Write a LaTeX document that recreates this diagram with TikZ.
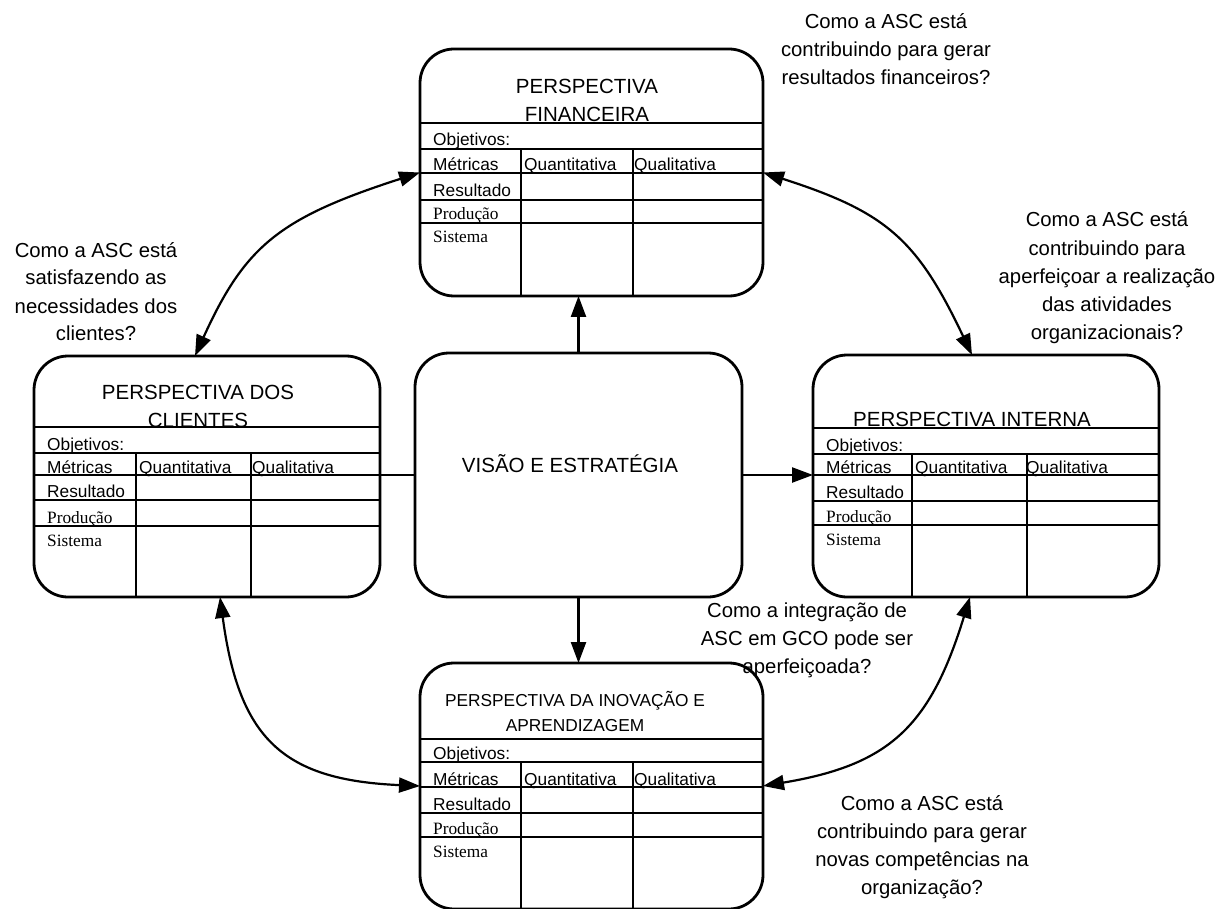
\documentclass[tikz,border=0pt]{standalone}
\usepackage{fontspec}
\setmainfont{Liberation Sans}
\newfontfamily\cellserif{Liberation Serif}
\usetikzlibrary{arrows.meta}

% table labels of one perspective panel:
% #1 prefix, #2 left x, #3 first column x, #4 second column x,
% #5 objectives line, #6 metrics line, #7 result line, #8 production line
\newcommand\bsccells[8]{%
  \node[cell] (#1-obj) at (#2+13,#5-3) {Objetivos:};
  \node[cell] (#1-met) at (#2+13,#6-2) {Métricas};
  \node[cell] (#1-qt)  at (#3+3,#6-2)  {Quantitativa};
  \node[cell] (#1-ql)  at (#4+1,#6-2)  {Qualitativa};
  \node[cell] (#1-res) at (#2+13,#7-3) {Resultado};
  \node[cell,serifcell] (#1-pro) at (#2+13,#8-3) {Produção};
  \node[cell,serifcell] (#1-sis) at (#2+13,#8+20) {Sistema};
}

\begin{document}
\begin{tikzpicture}[x=1pt,y=-1pt,
  >={Triangle[length=21pt,width=15pt]},
  panel/.style={draw, line width=2.8pt, rounded corners=34pt, outer sep=0pt, inner sep=0pt},
  gridline/.style={line width=2.4pt},
  cell/.style={anchor=base west, inner sep=0pt, font=\fontsize{17.3}{20}\selectfont},
  serifcell/.style={font=\cellserif\fontsize{17.3}{20}\selectfont},
  % multi-line nodes: the base anchor sits on the last line
  ptitle/.style={anchor=base, align=center, inner sep=0pt, font=\fontsize{20.5}{28}\selectfont},
  question/.style={anchor=base, align=center, inner sep=0pt, font=\fontsize{20.3}{28}\selectfont},
  link/.style={line width=2.2pt, <->},
  flow/.style={line width=2.4pt},
]
\useasboundingbox (0,0) rectangle (1218,909);

% ---- panels ----
\node[panel, minimum width=343pt, minimum height=247pt] (fin) at (591.5,172.5) {};
\node[panel, minimum width=346pt, minimum height=241pt] (cli) at (207,476.5) {};
\node[panel, minimum width=346pt, minimum height=242pt] (int) at (986,476) {};
\node[panel, minimum width=343pt, minimum height=246pt] (ino) at (591.5,786) {};
\node[panel, minimum width=327pt, minimum height=244pt] (cen) at (578.5,475) {};

% ---- financial perspective ----
\foreach \y in {123,149,173,200,223} \draw[gridline] (420,\y) -- (763,\y);
\foreach \x in {521,633} \draw[gridline] (\x,149) -- (\x,296);
\node[ptitle] (fin-title) at (587,122) {PERSPECTIVA\\FINANCEIRA};
\bsccells{fin}{420}{521}{633}{149}{173}{200}{223}

% ---- customer perspective ----
\foreach \y in {427,453,475,500,526} \draw[gridline] (34,\y) -- (380,\y);
\foreach \x in {136,251} \draw[gridline] (\x,453) -- (\x,597);
\node[ptitle] (cli-title) at (198,427) {PERSPECTIVA DOS\\CLIENTES};
\bsccells{cli}{34}{136}{251}{453}{475}{500}{526}

% ---- internal perspective ----
\foreach \y in {428,454,475,501,525} \draw[gridline] (813,\y) -- (1159,\y);
\foreach \x in {912,1027} \draw[gridline] (\x,454) -- (\x,597);
\node[ptitle] (int-title) at (972,426) {PERSPECTIVA INTERNA};
\bsccells{int}{813}{912}{1025}{454}{475}{501}{525}

% ---- innovation and learning perspective ----
\foreach \y in {739,762,787,813,837} \draw[gridline] (420,\y) -- (763,\y);
\foreach \x in {521,633} \draw[gridline] (\x,762) -- (\x,909);
\node[ptitle, font=\fontsize{17.3}{25}\selectfont] (ino-title) at (575,731)
  {PERSPECTIVA DA INOVAÇÃO E\\APRENDIZAGEM};
\bsccells{ino}{420}{521}{633}{762}{787}{813}{837}

% ---- vision and strategy ----
\node[anchor=base, inner sep=0pt, font=\fontsize{20.5}{24}\selectfont] (cen-title)
  at (570,472) {VISÃO E ESTRATÉGIA};

% ---- connectors from the centre ----
\draw[flow, ->] (cen.north) -- (cen.north |- fin.south);
\draw[flow, ->] (cen.east) -- (cen.east -| int.west);
\draw[flow, ->] (cen.south) -- (cen.south |- ino.north);
\draw[flow] (cen.west) -- (cen.west -| cli.east);

% ---- links between perspectives ----
\draw[link] (fin.west) .. controls (279,218) and (245,246) .. ([xshift=-12pt]cli.north);
\draw[link] (fin.east) .. controls (886,212) and (917,239) .. ([xshift=-14pt]int.north);
\draw[link] ([xshift=13pt]cli.south) .. controls (239,739) and (283,780) .. (ino.west);
\draw[link] (ino.east) .. controls (889,765) and (930,727) .. ([xshift=-16pt]int.south);

% ---- guiding questions ----
\node[question] (q-fin) at (886,85)
  {Como a ASC está\\contribuindo para gerar\\resultados financeiros?};
\node[question] (q-cli) at (96,341)
  {Como a ASC está\\satisfazendo as\\necessidades dos\\clientes?};
\node[question] (q-int) at (1107,339)
  {Como a ASC está\\contribuindo para\\aperfeiçoar a realização\\das atividades\\organizacionais?};
\node[question] (q-gco) at (807,673)
  {Como a integração de\\ASC em GCO pode ser\\aperfeiçoada?};
\node[question] (q-ino) at (922,894)
  {Como a ASC está\\contribuindo para gerar\\novas competências na\\organização?};
\end{tikzpicture}
\end{document}
